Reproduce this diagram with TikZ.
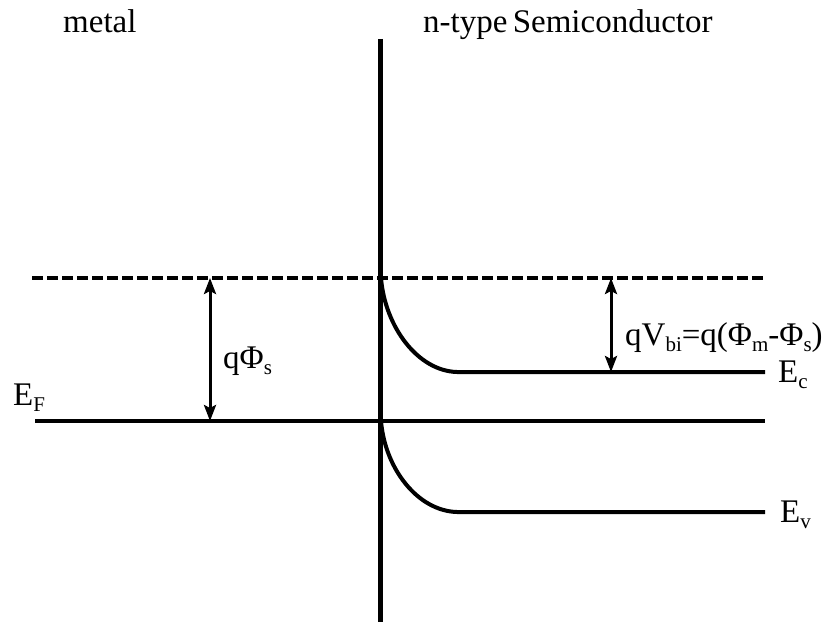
\documentclass[tikz,border=0pt]{standalone}
\usepackage{fontspec}
\setmainfont{Liberation Serif}
\usepackage{tikz}
\usetikzlibrary{arrows.meta,calc}

% lowered subscript in text
\newcommand{\lo}[1]{\raisebox{-6pt}{\fontsize{21}{21}\selectfont #1}}

\begin{document}
\begin{tikzpicture}[x=1pt,y=-1pt,
  level/.style={line width=4pt},
  vac/.style={line width=4pt,dash pattern=on 11pt off 4pt},
  gap/.style={line width=3pt,{Stealth[length=16pt,width=12pt,inset=3pt]}-{Stealth[length=16pt,width=12pt,inset=3pt]}},
  lbl/.style={inner sep=0pt,anchor=base west,font=\fontsize{33}{39}\selectfont}]
  \useasboundingbox (0,0) rectangle (826,623);

  % interface
  \coordinate (top) at (380.5,39);
  \coordinate (bot) at (380.5,622);
  \draw[line width=5pt] (top) -- (bot);

  % vacuum level and Fermi level
  \coordinate (vacL) at (32,278);
  \coordinate (vacR) at (765,278);
  \coordinate (efL) at (35,421);
  \coordinate (efR) at (765,421);
  \draw[vac] (vacL) -- (vacR);
  \draw[level] (efL) -- (efR);

  % bent bands
  \coordinate (ec0) at (381,278);
  \coordinate (ec1) at (457,372);
  \coordinate (ecR) at (765,372);
  \coordinate (ev0) at (381,421);
  \coordinate (ev1) at (457,512);
  \coordinate (evR) at (765,512);
  \draw[level] (ec0) .. controls (385,327) and (418,371) .. (ec1) -- (ecR);
  \draw[level] (ev0) .. controls (385,469) and (418,511) .. (ev1) -- (evR);

  % barrier heights
  \coordinate (a1) at (210,278);
  \coordinate (b1) at (210,421);
  \coordinate (a2) at (611,278);
  \coordinate (b2) at (611,372);
  \draw[gap] (a1) -- (b1);
  \draw[gap] (a2) -- (b2);

  % labels
  \node[lbl] (metal) at (63,33) {metal};
  \node[lbl] (semi) at (423,33) {n-type\hspace{-3pt} Semiconductor};
  \node[lbl] (phis) at (223,368) {qΦ\lo{s}};
  \node[lbl] (vbi) at (625,345) {qV\lo{bi}=q(Φ\lo{m}-Φ\lo{s})};
  \node[lbl] (ef) at (13,405) {E\lo{F}};
  \node[lbl] (ec) at (778,382) {E\lo{c}};
  \node[lbl] (ev) at (780,522) {E\lo{v}};

\end{tikzpicture}
\end{document}
